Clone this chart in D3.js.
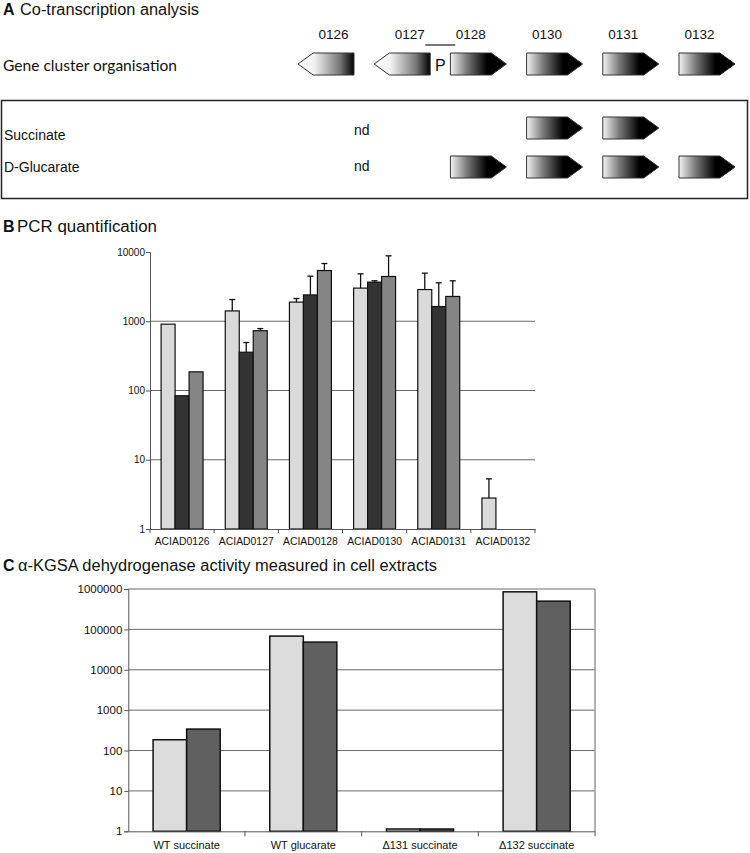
<!DOCTYPE html>
<html lang="en">
<head>
  <meta charset="UTF-8">
  <title>Co-transcription, PCR quantification and a-KGSA dehydrogenase activity</title>
  <script src="https://d3js.org/d3.v7.min.js"></script>
  <style>
    body {
      margin: 0;
      padding: 0;
      background: #fff;
      font-family: 'Liberation Sans', Arial, sans-serif;
    }
    svg text { fill: #111; }
    .grid line { stroke: #6a6a6a; stroke-width: 1px; }
    .axis path, .axis line { stroke: #555; }
  </style>
</head>
<body>
<svg id="fig" width="750" height="853"></svg>

<script>
  // ---- panel A: gene cluster
  const genes = ["0126", "0127", "0128", "0130", "0131", "0132"];
  const geneStrand = [-1, -1, 1, 1, 1, 1];
  const succinateOperon = ["0130", "0131"];
  const glucarateOperon = ["0128", "0130", "0131", "0132"];

  // ---- panel B: PCR quantification (log scale)
  const pcrGenes = ["ACIAD0126", "ACIAD0127", "ACIAD0128", "ACIAD0130", "ACIAD0131", "ACIAD0132"];
  const pcrSeries1 = [908, 1410, 1890, 3010, 2870, 2.8];
  const pcrSeries2 = [84, 357, 2400, 3670, 1630, null];
  const pcrSeries3 = [186, 730, 5400, 4430, 2280, null];
  const pcrErrTop1 = [null, 2060, 2130, 4840, 4950, 5.3];
  const pcrErrTop2 = [null, 493, 4480, 3840, 3590, null];
  const pcrErrTop3 = [null, 784, 6820, 8810, 3840, null];
  const pcrTicks = [1, 10, 100, 1000, 10000];

  // ---- panel C: dehydrogenase activity (log scale)
  const strains = ["WT succinate", "WT glucarate", "\u0394131 succinate", "\u0394132 succinate"];
  const activity1 = [185, 68200, 1.14, 851000];
  const activity2 = [340, 48500, 1.14, 500000];
  const activityTicks = [1, 10, 100, 1000, 10000, 100000, 1000000];

  const svg = d3.select("#fig");

  function panelTitle(letter, text, y, textWidth, x0) {
    svg.append("text").attr("x", 3).attr("y", y)
      .style("font-size", "16px").style("font-weight", "bold").text(letter);
    svg.append("text").attr("x", x0).attr("y", y)
      .style("font-size", "16px")
      .attr("textLength", textWidth).attr("lengthAdjust", "spacingAndGlyphs")
      .text(text);
  }

  // ================= Panel A =================
  panelTitle("A", "Co-transcription analysis", 15, 179, 20);

  const defs = svg.append("defs");
  const gradR = defs.append("linearGradient").attr("id", "gradRight");
  gradR.append("stop").attr("offset", "0").attr("stop-color", "#f4f4f4");
  gradR.append("stop").attr("offset", "0.3").attr("stop-color", "#777");
  gradR.append("stop").attr("offset", "0.65").attr("stop-color", "#000");
  gradR.append("stop").attr("offset", "1").attr("stop-color", "#000");
  const gradL = defs.append("linearGradient").attr("id", "gradLeft");
  gradL.append("stop").attr("offset", "0").attr("stop-color", "#fff");
  gradL.append("stop").attr("offset", "0.3").attr("stop-color", "#f0f0f0");
  gradL.append("stop").attr("offset", "0.75").attr("stop-color", "#777");
  gradL.append("stop").attr("offset", "1").attr("stop-color", "#000");

  const gx = d3.scaleBand().domain(genes).range([298, 735]).paddingInner(0.265).paddingOuter(0);
  const arrowH = 22;
  const tipFrac = 0.27;

  function arrowPath(x0, w, y0, h, dir) {
    const t = w * tipFrac;
    if (dir > 0) {
      return `M${x0},${y0}L${x0 + w - t},${y0}L${x0 + w},${y0 + h / 2}L${x0 + w - t},${y0 + h}L${x0},${y0 + h}Z`;
    }
    return `M${x0 + w},${y0}L${x0 + t},${y0}L${x0},${y0 + h / 2}L${x0 + t},${y0 + h}L${x0 + w},${y0 + h}Z`;
  }

  function drawArrows(list, y0) {
    svg.append("g").selectAll("path")
      .data(list)
      .join("path")
      .attr("d", g => arrowPath(gx(g), gx.bandwidth(), y0, arrowH, geneStrand[genes.indexOf(g)]))
      .attr("fill", g => geneStrand[genes.indexOf(g)] > 0 ? "url(#gradRight)" : "url(#gradLeft)")
      .attr("stroke", "#333")
      .attr("stroke-width", 1);
  }

  // gene labels centred on the arrow body
  svg.append("g").selectAll("text")
    .data(genes)
    .join("text")
    .attr("x", (g, i) => {
      const w = gx.bandwidth(), t = w * tipFrac;
      return geneStrand[i] > 0 ? gx(g) + (w - t) / 2 : gx(g) + t + (w - t) / 2;
    })
    .attr("y", 39)
    .attr("text-anchor", "middle")
    .style("font-size", "13.5px")
    .text(g => g);

  svg.append("text").attr("x", 3).attr("y", 71)
    .style("font-family", "Lato, 'Open Sans', sans-serif").style("font-size", "16px")
    .attr("textLength", 174).attr("lengthAdjust", "spacingAndGlyphs")
    .text("Gene cluster organisation");

  drawArrows(genes, 53);

  // promoter between 0127 and 0128
  const pX = (gx("0127") + gx.bandwidth() + gx("0128")) / 2;
  svg.append("line").attr("x1", pX - 15).attr("x2", pX + 15).attr("y1", 45).attr("y2", 45)
    .attr("stroke", "#555").attr("stroke-width", 1.6);
  svg.append("text").attr("x", pX).attr("y", 71).attr("text-anchor", "middle")
    .style("font-size", "16px").text("P");

  // operon box
  svg.append("rect").attr("x", 1.5).attr("y", 100.5).attr("width", 746).attr("height", 98)
    .attr("fill", "none").attr("stroke", "#222").attr("stroke-width", 1.5);

  svg.append("text").attr("x", 4).attr("y", 140).style("font-size", "14px").text("Succinate");
  svg.append("text").attr("x", 4).attr("y", 172).style("font-size", "14px").text("D-Glucarate");
  svg.append("text").attr("x", 354).attr("y", 135).style("font-size", "14px").text("nd");
  svg.append("text").attr("x", 354).attr("y", 171).style("font-size", "14px").text("nd");

  drawArrows(succinateOperon, 117);
  drawArrows(glucarateOperon, 156);

  // ================= Panel B =================
  panelTitle("B", "PCR quantification", 232, 140, 17);

  const bLeft = 150, bRight = 535, bTop = 252, bBottom = 529;
  const bx = d3.scaleBand().domain(pcrGenes).range([bLeft, bRight]).paddingInner(0.346).paddingOuter(0.173);
  const bSeries = ["s1", "s2", "s3"];
  const bxs = d3.scaleBand().domain(bSeries).range([0, bx.bandwidth()]);
  const by = d3.scaleLog().domain([1, 10000]).range([bBottom, bTop]);
  const bColors = { s1: "#dadada", s2: "#333333", s3: "#858585" };

  svg.append("g").attr("class", "grid").selectAll("line")
    .data(pcrTicks.filter(v => v > 1 && v < 10000))
    .join("line")
    .attr("x1", bLeft).attr("x2", bRight)
    .attr("y1", d => by(d)).attr("y2", d => by(d));

  const bRows = [];
  pcrGenes.forEach((g, i) => {
    [[pcrSeries1, pcrErrTop1], [pcrSeries2, pcrErrTop2], [pcrSeries3, pcrErrTop3]].forEach((pair, k) => {
      if (pair[0][i] != null) bRows.push({ gene: g, s: bSeries[k], v: pair[0][i], e: pair[1][i] });
    });
  });

  const bBars = svg.append("g");
  bBars.selectAll("rect")
    .data(bRows)
    .join("rect")
    .attr("x", d => bx(d.gene) + bxs(d.s))
    .attr("width", bxs.bandwidth())
    .attr("y", d => by(d.v))
    .attr("height", d => by(1) - by(d.v))
    .attr("fill", d => bColors[d.s])
    .attr("stroke", "#111").attr("stroke-width", 1.2);

  const bErr = svg.append("g").attr("stroke", "#111").attr("stroke-width", 1.3);
  bRows.filter(d => d.e != null).forEach(d => {
    const cx = bx(d.gene) + bxs(d.s) + bxs.bandwidth() / 2;
    bErr.append("line").attr("x1", cx).attr("x2", cx).attr("y1", by(d.v)).attr("y2", by(d.e));
    bErr.append("line").attr("x1", cx - 3).attr("x2", cx + 3).attr("y1", by(d.e)).attr("y2", by(d.e));
  });

  svg.append("g").attr("class", "axis")
    .attr("transform", `translate(${bLeft},0)`)
    .call(d3.axisLeft(by).tickValues(pcrTicks).tickFormat(d3.format("d")).tickSize(4).tickPadding(1))
    .call(g => g.selectAll("text").style("font-size", "10px").style("font-family", "'Liberation Sans', Arial"));

  const bAxis = svg.append("g").attr("class", "axis")
    .attr("transform", `translate(0,${bBottom})`)
    .call(d3.axisBottom(bx).tickSize(0).tickPadding(9))
    .call(g => g.selectAll("text").style("font-size", "10.4px").style("font-family", "'Liberation Sans', Arial"));
  bAxis.selectAll(".bound")
    .data(pcrGenes.concat(["end"]))
    .join("line")
    .attr("class", "bound")
    .attr("x1", (d, i) => bLeft + i * bx.step()).attr("x2", (d, i) => bLeft + i * bx.step())
    .attr("y1", 0).attr("y2", 4).attr("stroke", "#555");

  // ================= Panel C =================
  panelTitle("C", "\u03b1-KGSA dehydrogenase activity measured in cell extracts", 571, 419, 18);

  const cLeft = 128.3, cRight = 595, cTop = 589, cBottom = 831.3;
  const cx = d3.scaleBand().domain(strains).range([cLeft, cRight]).paddingInner(0.425).paddingOuter(0.2125);
  const cSeries = ["a1", "a2"];
  const cxs = d3.scaleBand().domain(cSeries).range([0, cx.bandwidth()]);
  const cy = d3.scaleLog().domain([1, 1000000]).range([cBottom, cTop]);
  const cColors = { a1: "#dcdcdc", a2: "#606060" };

  svg.append("g").attr("class", "grid").selectAll("line")
    .data(activityTicks.filter(v => v > 1))
    .join("line")
    .attr("x1", cLeft).attr("x2", cRight)
    .attr("y1", d => cy(d)).attr("y2", d => cy(d))
    .attr("stroke", d => d === 1000000 ? "#999" : null);
  svg.append("line").attr("x1", cRight).attr("x2", cRight).attr("y1", cTop).attr("y2", cBottom)
    .attr("stroke", "#999").attr("stroke-width", 1.5);

  const cRows = [];
  strains.forEach((s, i) => {
    cRows.push({ strain: s, s: "a1", v: activity1[i] });
    cRows.push({ strain: s, s: "a2", v: activity2[i] });
  });

  svg.append("g").selectAll("rect")
    .data(cRows)
    .join("rect")
    .attr("x", d => cx(d.strain) + cxs(d.s))
    .attr("width", cxs.bandwidth())
    .attr("y", d => cy(d.v))
    .attr("height", d => cy(1) - cy(d.v))
    .attr("fill", d => cColors[d.s])
    .attr("stroke", "#111").attr("stroke-width", 1.5);

  svg.append("g").attr("class", "axis")
    .attr("transform", `translate(${cLeft},0)`)
    .call(d3.axisLeft(cy).tickValues(activityTicks).tickFormat(d3.format("d")).tickSize(4).tickPadding(2))
    .call(g => g.selectAll("text").style("font-size", "11.5px").style("font-family", "'Liberation Sans', Arial"));

  const cAxis = svg.append("g").attr("class", "axis")
    .attr("transform", `translate(0,${cBottom})`)
    .call(d3.axisBottom(cx).tickSize(0).tickPadding(10))
    .call(g => g.selectAll("text").style("font-size", "11px").style("font-family", "'Liberation Sans', Arial"));
  cAxis.selectAll(".bound")
    .data(strains)
    .join("line")
    .attr("class", "bound")
    .attr("x1", (d, i) => cLeft + (i + 1) * cx.step()).attr("x2", (d, i) => cLeft + (i + 1) * cx.step())
    .attr("y1", 0).attr("y2", 5).attr("stroke", "#555");
</script>
</body>
</html>
